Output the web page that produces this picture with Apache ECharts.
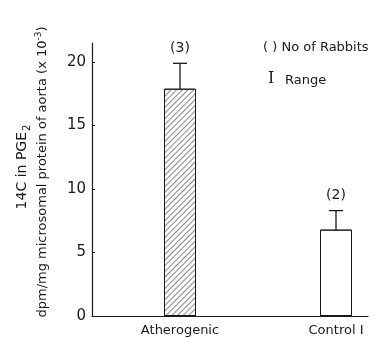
<html>
<head><meta charset="utf-8"></head>
<body style="margin:0;background:#fff;">
    <div id='main' style="width: 382px; height: 338px;"></div>
</body>

<script src="https://cdn.jsdelivr.net/npm/echarts@6/dist/echarts.min.js"></script>
<script>

// values
var categories = ['Atherogenic', 'Control I'];
var means = [17.9, 6.8];
var rangeLow = [15.0, 5.0];
var rangeHigh = [19.9, 8.3];
var rabbits = [3, 2];

var ink = '#1a1a1a';
var font = '"DejaVu Sans"';

var chartDom = document.getElementById('main');
var myChart = echarts.init(chartDom);
var option;

var barData = means.map(function (v, i) {
    return {
        value: v,
        itemStyle: {
            color: '#fff',
            borderColor: ink,
            borderWidth: 1,
            decal: {
                symbol: 'rect',
                symbolSize: 1,
                dashArrayX: [1, 0],
                dashArrayY: [1, 2.5],
                rotation: -Math.PI / 4,
                // only the first group is hatched
                color: i === 0 ? '#888' : 'rgba(0,0,0,0)'
            }
        }
    };
});

var errData = categories.map(function (c, i) {
    return [i, rangeLow[i], rangeHigh[i], rabbits[i]];
});

option = {
  animation: false,
  aria: { enabled: true, decal: { show: true } },
  grid: [
    { left: 92, right: 14, top: 43, bottom: 22, outerBoundsMode: 'none' },
    { left: 180, right: 46, top: 43, bottom: 22, outerBoundsMode: 'none' }
  ],
  xAxis: [
    {
      gridIndex: 0,
      type: 'category',
      data: categories,
      axisLine: { lineStyle: { color: ink, width: 1.2 } },
      axisTick: { show: false },
      axisLabel: { show: false }
    },
    {
      gridIndex: 1,
      type: 'category',
      data: categories,
      boundaryGap: false,
      axisLine: { show: false },
      axisTick: { show: false },
      axisLabel: { color: ink, fontFamily: font, fontSize: 13, margin: 8 }
    }
  ],
  yAxis: [
    {
      gridIndex: 0,
      type: 'value',
      min: 0,
      max: 21.5,
      interval: 5,
      splitLine: { show: false },
      axisLine: { show: true, lineStyle: { color: ink, width: 1.2 } },
      axisTick: { show: true, inside: true, length: 3, lineStyle: { color: ink } },
      axisLabel: { color: ink, fontFamily: font, fontSize: 15, margin: 6, showMaxLabel: false }
    },
    {
      gridIndex: 1,
      type: 'value',
      min: 0,
      max: 21.5,
      show: false
    }
  ],
  series: [
    {
      type: 'bar',
      xAxisIndex: 1,
      yAxisIndex: 1,
      barWidth: 32,
      data: barData
    },
    {
      type: 'custom',
      xAxisIndex: 1,
      yAxisIndex: 1,
      data: errData,
      renderItem: function (params, api) {
        var lo = api.coord([api.value(0), api.value(1)]);
        var hi = api.coord([api.value(0), api.value(2)]);
        var cap = 7;
        var st = { stroke: ink, lineWidth: 1.3 };
        return {
          type: 'group',
          children: [
            { type: 'line', shape: { x1: hi[0], y1: hi[1], x2: lo[0], y2: lo[1] }, style: st },
            { type: 'line', shape: { x1: hi[0] - cap, y1: hi[1], x2: hi[0] + cap, y2: hi[1] }, style: st },
            { type: 'line', shape: { x1: lo[0] - cap, y1: lo[1], x2: lo[0] + cap, y2: lo[1] }, style: st },
            {
              type: 'text',
              x: hi[0],
              y: hi[1] - 15,
              style: {
                text: '(' + api.value(3) + ')',
                fill: ink,
                font: '14px ' + font,
                textAlign: 'center',
                textVerticalAlign: 'middle'
              }
            }
          ]
        };
      }
    }
  ],
  graphic: [
    {
      type: 'text', left: 263, top: 41,
      style: { text: '( ) No of Rabbits', fill: ink, font: '13px ' + font }
    },
    {
      type: 'text', left: 268, top: 71,
      style: { text: 'I', fill: ink, font: '16px "DejaVu Serif"' }
    },
    {
      type: 'text', left: 285, top: 74,
      style: { text: 'Range', fill: ink, font: '13px ' + font }
    },
    {
      type: 'text', x: 22, y: 167, rotation: Math.PI / 2,
      style: {
        text: '{a|14C in PGE}{s|2}',
        fill: ink,
        textAlign: 'center',
        textVerticalAlign: 'middle',
        rich: {
          a: { fontFamily: font, fontSize: 14, fill: ink },
          s: { fontFamily: font, fontSize: 10, fill: ink, padding: [10, 0, 0, 1] }
        }
      }
    },
    {
      type: 'text', x: 43, y: 172, rotation: Math.PI / 2,
      style: {
        text: '{a|dpm/mg microsomal protein of aorta (x 10}{s|-3}{a|)}',
        fill: ink,
        textAlign: 'center',
        textVerticalAlign: 'middle',
        rich: {
          a: { fontFamily: font, fontSize: 13, fill: ink },
          s: { fontFamily: font, fontSize: 9, fill: ink, padding: [0, 0, 8, 0] }
        }
      }
    }
  ]
};

option && myChart.setOption(option);

</script>
</html>
